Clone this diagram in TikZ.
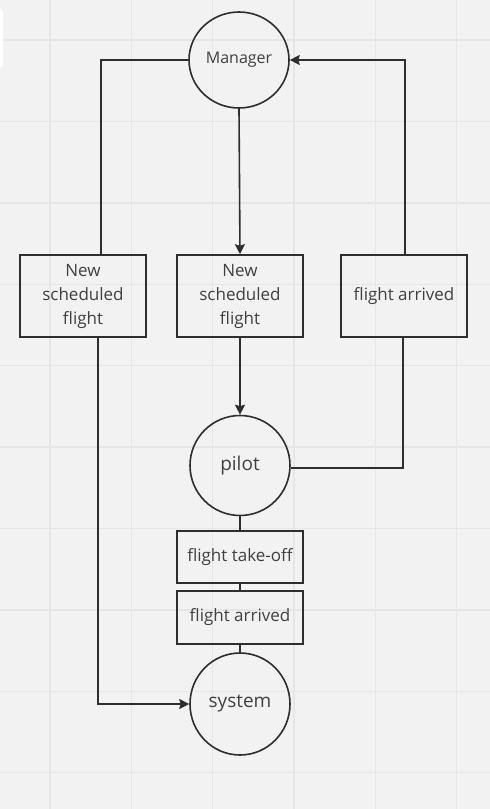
\documentclass[tikz,border=0pt]{standalone}
\usepackage{fontspec}
\setmainfont{Open Sans}
\usetikzlibrary{arrows.meta,shapes.geometric}
\definecolor{bg}{HTML}{F2F2F2}
\definecolor{gridc}{HTML}{E6E6E6}
\definecolor{linec}{HTML}{2E2E2E}
\definecolor{textc}{HTML}{404040}
\tikzset{
  conn/.style={draw=linec, line width=1.6pt},
  arr/.style={conn, -{Stealth[length=10pt,width=10pt,inset=1.5pt]}},
  boxnode/.style={draw=linec, line width=1.6pt, rectangle, minimum width=126pt, minimum height=82pt, inner sep=0pt, align=center, text=textc, font=\fontsize{17}{24}\selectfont},
  smallbox/.style={boxnode, minimum height=52pt},
  roundnode/.style={draw=linec, line width=1.6pt, ellipse, minimum width=100pt, minimum height=100pt, inner sep=0pt, text=textc, font=\fontsize{19}{23}\selectfont},
}
\begin{document}
\begin{tikzpicture}[x=1pt,y=-1pt]
\useasboundingbox (0,0) rectangle (490,809);
\fill[bg] (0,0) rectangle (490,809);
\foreach \i in {0,...,5} {\draw[gridc, line width=1.4pt] (50+81.3*\i,0) -- (50+81.3*\i,809);}
\foreach \j in {0,...,9} {\draw[gridc, line width=1.4pt] (0,40+81.4*\j) -- (490,40+81.4*\j);}
\fill[white, rounded corners=3pt] (-6,9) rectangle (3,68);

\node[roundnode, minimum height=96pt, font=\fontsize{16}{20}\selectfont] (manager) at (239,60) {Manager};
\node[boxnode] (box1) at (83,296) {New\\scheduled\\flight};
\node[boxnode] (box2) at (240,296) {New\\scheduled\\flight};
\node[boxnode] (box3) at (404,296) {flight arrived};
\node[roundnode] (pilot) at (240,465.5) {pilot};
\node[smallbox] (takeoff) at (240,557) {flight take-off};
\node[smallbox, minimum height=53pt] (arrived) at (240,617.5) {flight arrived};
\node[roundnode, minimum height=102pt] (system) at (240,704) {system};

\coordinate (c1) at (101,60);
\coordinate (c3) at (405,60);
\coordinate (c5) at (403,468);
\coordinate (c6) at (98,704);

\draw[conn] (manager.west) -- (c1) -- (box1.north -| c1);
\draw[arr] (manager.south) -- (box2.north);
\draw[arr] (box3.north -| c3) -- (c3) -- (manager.east);
\draw[arr] (box2.south) -- (pilot.north);
\draw[conn] (pilot.east |- c5) -- (c5) -- (box3.south -| c5);
\draw[arr] (box1.south -| c6) -- (c6) -- (system.west);
\draw[conn] (pilot.south) -- (takeoff.north);
\draw[conn] (takeoff.south) -- (arrived.north);
\draw[conn] (arrived.south) -- (system.north);
\end{tikzpicture}
\end{document}
